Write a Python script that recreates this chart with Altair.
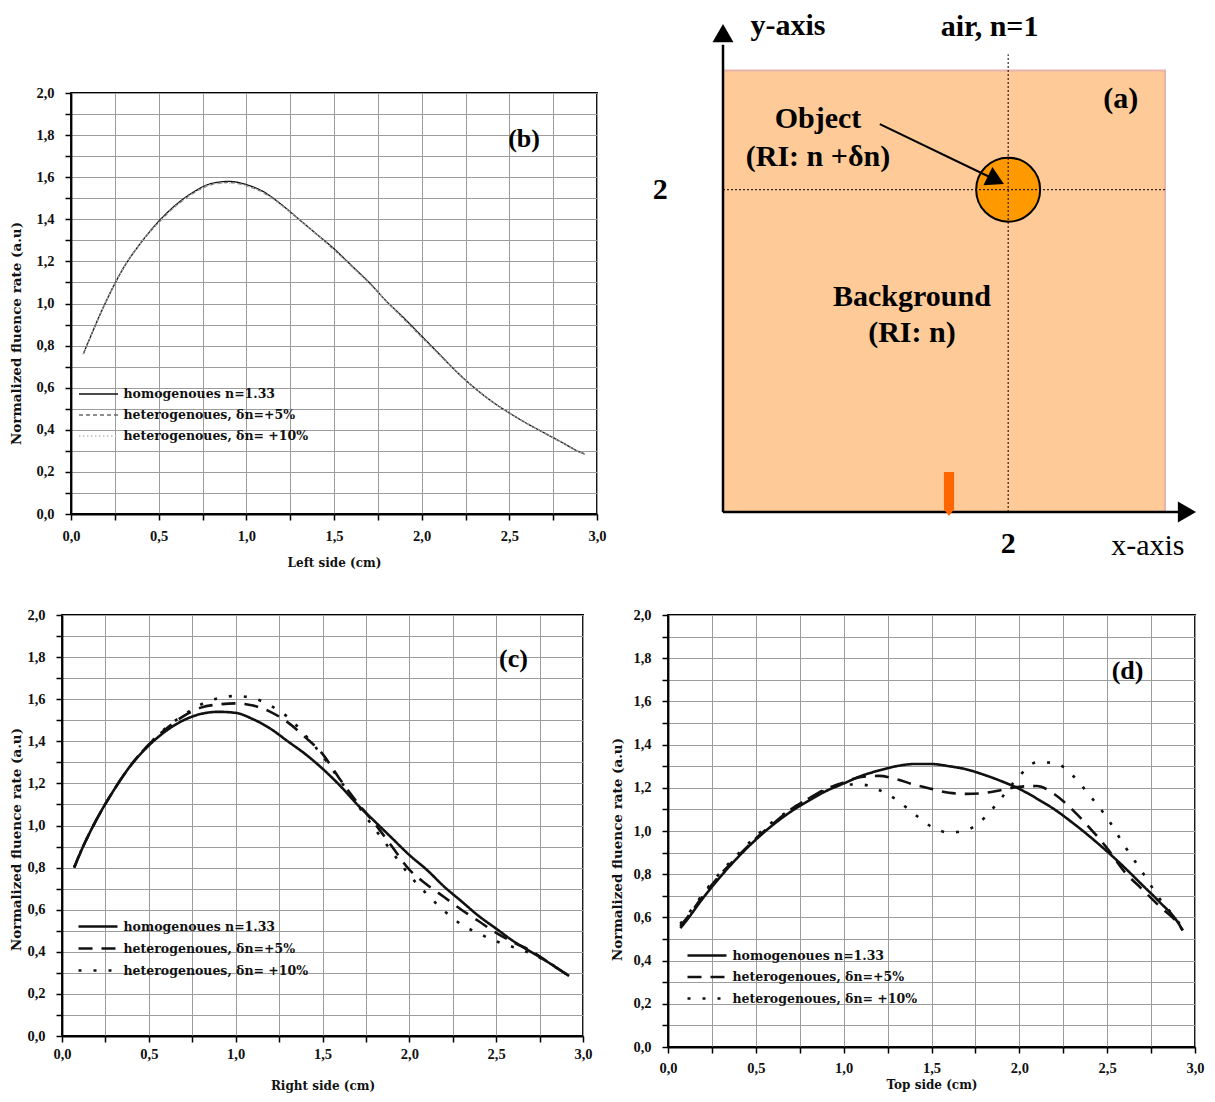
import altair as alt
import pandas as pd

# ---------------- data ----------------
SERIES = ["homogenoues n=1.33", "heterogenoues, δn=+5%", "heterogenoues, δn= +10%"]
X_TICKS = [0.0, 0.25, 0.5, 0.75, 1.0, 1.25, 1.5, 1.75, 2.0, 2.25, 2.5, 2.75, 3.0]
Y_TICKS = [0.0, 0.1, 0.2, 0.3, 0.4, 0.5, 0.6, 0.7, 0.8, 0.9, 1.0,
           1.1, 1.2, 1.3, 1.4, 1.5, 1.6, 1.7, 1.8, 1.9, 2.0]

# (b) left side
XB = [0.07, 0.1, 0.2, 0.3, 0.4, 0.5, 0.6, 0.7, 0.8, 0.9, 1.0, 1.1, 1.2, 1.3, 1.4, 1.5,
      1.6, 1.7, 1.8, 1.9, 2.0, 2.1, 2.2, 2.3, 2.4, 2.5, 2.6, 2.7, 2.8, 2.9, 2.93]
B_HOM = [0.76, 0.82, 1.01, 1.17, 1.29, 1.39, 1.47, 1.53, 1.57, 1.58, 1.565, 1.53, 1.47, 1.40, 1.33, 1.26,
         1.18, 1.10, 1.01, 0.93, 0.845, 0.76, 0.675, 0.60, 0.535, 0.48, 0.43, 0.385, 0.34, 0.295, 0.285]
B_P5 = [0.76, 0.82, 1.01, 1.17, 1.29, 1.385, 1.465, 1.525, 1.565, 1.575, 1.56, 1.525, 1.47, 1.40, 1.33, 1.255,
        1.18, 1.10, 1.01, 0.925, 0.84, 0.76, 0.675, 0.60, 0.535, 0.48, 0.43, 0.385, 0.34, 0.295, 0.285]
B_P10 = [0.76, 0.82, 1.01, 1.17, 1.29, 1.385, 1.465, 1.525, 1.565, 1.572, 1.56, 1.525, 1.465, 1.40, 1.33, 1.255,
         1.175, 1.095, 1.01, 0.925, 0.84, 0.755, 0.675, 0.60, 0.535, 0.48, 0.43, 0.385, 0.34, 0.295, 0.285]

# (c) right side
XC = [0.07, 0.1, 0.2, 0.3, 0.4, 0.5, 0.6, 0.7, 0.8, 0.9, 1.0, 1.1, 1.2, 1.3, 1.4, 1.5,
      1.6, 1.7, 1.8, 1.9, 2.0, 2.1, 2.2, 2.3, 2.4, 2.5, 2.6, 2.7, 2.8, 2.92]
C_HOM = [0.80, 0.86, 1.03, 1.17, 1.29, 1.38, 1.45, 1.50, 1.53, 1.54, 1.535, 1.505, 1.46, 1.40, 1.34, 1.27,
         1.19, 1.10, 1.02, 0.94, 0.86, 0.79, 0.71, 0.64, 0.57, 0.51, 0.45, 0.40, 0.35, 0.285]
C_P5 = [0.80, 0.86, 1.03, 1.17, 1.29, 1.385, 1.46, 1.52, 1.56, 1.575, 1.58, 1.57, 1.54, 1.49, 1.42, 1.34,
        1.22, 1.11, 1.01, 0.90, 0.79, 0.72, 0.66, 0.60, 0.545, 0.49, 0.445, 0.405, 0.35, 0.285]
C_P10 = [0.80, 0.86, 1.03, 1.17, 1.29, 1.385, 1.465, 1.525, 1.575, 1.605, 1.615, 1.605, 1.57, 1.515, 1.43, 1.33,
         1.215, 1.10, 0.985, 0.875, 0.765, 0.675, 0.595, 0.53, 0.487, 0.45, 0.422, 0.392, 0.35, 0.285]

# (d) top side
XD = [0.07, 0.1, 0.2, 0.3, 0.4, 0.5, 0.6, 0.7, 0.8, 0.9, 1.0, 1.1, 1.2, 1.3, 1.4, 1.5,
      1.6, 1.7, 1.8, 1.9, 2.0, 2.1, 2.2, 2.3, 2.4, 2.5, 2.6, 2.7, 2.8, 2.9, 2.93]
D_HOM = [0.55, 0.58, 0.69, 0.79, 0.88, 0.96, 1.03, 1.09, 1.14, 1.185, 1.22, 1.255, 1.28, 1.30, 1.31, 1.31,
         1.30, 1.285, 1.26, 1.23, 1.195, 1.15, 1.10, 1.04, 0.975, 0.905, 0.83, 0.75, 0.67, 0.58, 0.54]
D_P5 = [0.56, 0.59, 0.70, 0.80, 0.885, 0.965, 1.035, 1.10, 1.15, 1.195, 1.225, 1.25, 1.255, 1.24, 1.215, 1.195,
        1.177, 1.172, 1.176, 1.19, 1.205, 1.208, 1.17, 1.10, 1.015, 0.92, 0.81, 0.73, 0.65, 0.575, 0.54]
D_P10 = [0.57, 0.60, 0.71, 0.81, 0.895, 0.975, 1.045, 1.10, 1.15, 1.19, 1.215, 1.215, 1.19, 1.145, 1.08, 1.02,
         0.993, 1.004, 1.06, 1.155, 1.255, 1.318, 1.315, 1.26, 1.165, 1.06, 0.93, 0.81, 0.685, 0.585, 0.55]

# (a) schematic, in cm-like diagram units
BOX_X, BOX_X2, BOX_Y, BOX_Y2 = [0.0], [3.1], [0.0], [2.74]
GUIDE_X, GUIDE_X2, GUIDE_Y, GUIDE_Y2 = [2.0, 0.0], [2.0, 3.1], [0.0, 2.0], [2.84, 2.0]
SHAFT_X, SHAFT_X2, SHAFT_Y, SHAFT_Y2 = [0.0, 0.0], [0.0, 3.2], [0.0, 0.0], [2.9, 0.0]
YHEAD_X, YHEAD_Y = [0.0], [2.972]
XHEAD_X, XHEAD_Y = [3.254], [0.0]
PTR_X, PTR_X2, PTR_Y, PTR_Y2 = [1.10], [1.914], [2.407], [2.06]
OBJ_X, OBJ_Y = [2.0], [2.0]
SRC_X, SRC_Y = [1.585], [0.112]
BOLD_TEXT = ["y-axis", "air, n=1", "(a)", "Object", "(RI: n +δn)", "2", "Background", "(RI: n)", "2"]
BOLD_X = [0.456, 1.87, 2.79, 0.666, 0.666, -0.44, 1.325, 1.325, 2.0]
BOLD_Y = [3.016, 3.009, 2.56, 2.44, 2.20, 2.0, 1.334, 1.11, -0.2]
REG_TEXT, REG_X, REG_Y = ["x-axis"], [2.98], [-0.21]

# ---------------- styling ----------------
FONT_TXT = "DejaVu Serif"
FONT_NUM = "Liberation Serif"
GRID = "#9c9c9c"
LEGEND_LINE = "M-1.5,0L1.5,0"   # legend sample line, longer than its layout slot
LBL_X = "abs(datum.value*2 - round(datum.value*2)) < 0.001 ? replace(format(datum.value, '.1f'), '.', ',') : ''"
LBL_Y = "abs(datum.value*5 - round(datum.value*5)) < 0.001 ? replace(format(datum.value, '.1f'), '.', ',') : ''"


def long_df(xs, lists):
    rows = []
    for name, ys in zip(SERIES, lists):
        for xv, yv in zip(xs, ys):
            rows.append({"x": xv, "y": yv, "series": name})
    return pd.DataFrame(rows)


def graph(df, cfg):
    common = dict(grid=True, gridColor=GRID, gridWidth=1, tickSize=6, tickWidth=1.5, tickColor="black",
                  domainColor="black", domainWidth=1.8, labelFont=FONT_NUM, labelFontWeight="bold",
                  labelFontSize=14.5, labelColor="#111", labelOverlap=False, labelFlush=False,
                  titleFont=FONT_TXT, titleFontWeight="bold", titleColor="#111")
    x_enc = alt.X("x:Q", scale=alt.Scale(domain=[0, 3], nice=False, zero=False),
                  axis=alt.Axis(title=cfg["x_title"], values=X_TICKS, labelExpr=LBL_X, titleFontSize=12,
                                labelPadding=cfg["xl_pad"], titlePadding=cfg["xt_pad"], **common))
    y_enc = alt.Y("y:Q", scale=alt.Scale(domain=[0, 2], nice=False, zero=False),
                  axis=alt.Axis(title="Normalized fluence rate (a.u)", values=Y_TICKS, labelExpr=LBL_Y,
                                titleFontSize=13.5, labelPadding=11,
                                titleX=cfg["title_x"], titleY=cfg["title_y"], **common))
    leg = alt.Legend(title=None, orient="none", legendX=cfg["leg_x"], legendY=cfg["leg_y"],
                     symbolType=LEGEND_LINE, symbolSize=26 ** 2, symbolStrokeWidth=cfg["sw"],
                     labelFont=FONT_TXT, labelFontWeight="bold", labelFontSize=12.5, labelColor="#111",
                     labelOffset=11, labelLimit=400, rowPadding=cfg["row_pad"], padding=0)
    lines = alt.Chart(df).mark_line(strokeWidth=cfg["sw"], interpolate="monotone").encode(
        x=x_enc, y=y_enc,
        color=alt.Color("series:N", scale=alt.Scale(domain=SERIES, range=cfg["colors"]), legend=leg),
        strokeDash=alt.StrokeDash("series:N", scale=alt.Scale(domain=SERIES, range=cfg["dashes"]), legend=leg),
    )
    tag = alt.Chart(pd.DataFrame({"x": [cfg["tag_x"]], "y": [cfg["tag_y"]], "t": [cfg["tag"]]})).mark_text(
        font=FONT_NUM, fontWeight="bold", fontSize=26, color="black").encode(x=x_enc, y=y_enc, text="t:N")
    return alt.layer(lines, tag).properties(width=cfg["w"], height=cfg["h"])


chart_b = graph(long_df(XB, [B_HOM, B_P5, B_P10]), dict(
    x_title="Left side (cm)", tag="(b)", tag_x=2.584, tag_y=1.78, w=526, h=421,
    xl_pad=9, xt_pad=15, title_x=-48, title_y=240,
    colors=["#111111", "#6a6a6a", "#bdbdbd"], dashes=[[1, 0], [4, 3], [1.5, 2.5]], sw=1.3,
    leg_x=13.5, leg_y=287, row_pad=0))

chart_c = graph(long_df(XC, [C_HOM, C_P5, C_P10]), dict(
    x_title="Right side (cm)", tag="(c)", tag_x=2.60, tag_y=1.79, w=521, h=421,
    xl_pad=5, xt_pad=20, title_x=-39, title_y=224,
    colors=["#111111", "#111111", "#111111"], dashes=[[1, 0], [14, 9], [3, 12]], sw=2.6,
    leg_x=21.5, leg_y=297, row_pad=1))

chart_d = graph(long_df(XD, [D_HOM, D_P5, D_P10]), dict(
    x_title="Top side (cm)", tag="(d)", tag_x=2.616, tag_y=1.74, w=527, h=432,
    xl_pad=8, xt_pad=5, title_x=-44, title_y=234,
    colors=["#111111", "#111111", "#111111"], dashes=[[1, 0], [14, 9], [3, 12]], sw=2.6,
    leg_x=24.5, leg_y=326, row_pad=0.5))

# ---------------- schematic (a) ----------------
DX = alt.X("x:Q", scale=alt.Scale(domain=[0, 3.1], nice=False, zero=False), axis=None)
DY = alt.Y("y:Q", scale=alt.Scale(domain=[0, 2.6], nice=False, zero=False), axis=None)

box = alt.Chart(pd.DataFrame({"x": BOX_X, "x2": BOX_X2, "y": BOX_Y, "y2": BOX_Y2})).mark_rect(
    fill="#FDCA98", stroke="#E9B3AB", strokeWidth=2).encode(x=DX, x2="x2:Q", y=DY, y2="y2:Q")
obj = alt.Chart(pd.DataFrame({"x": OBJ_X, "y": OBJ_Y})).mark_point(
    shape="circle", size=4096, fill="#FF9900", stroke="black", strokeWidth=2, opacity=1, fillOpacity=1
).encode(x=DX, y=DY)
guides = alt.Chart(pd.DataFrame({"x": GUIDE_X, "x2": GUIDE_X2, "y": GUIDE_Y, "y2": GUIDE_Y2})).mark_rule(
    color="black", strokeWidth=1, strokeDash=[2, 2]).encode(x=DX, x2="x2:Q", y=DY, y2="y2:Q")
shafts = alt.Chart(pd.DataFrame({"x": SHAFT_X, "x2": SHAFT_X2, "y": SHAFT_Y, "y2": SHAFT_Y2})).mark_rule(
    color="black", strokeWidth=2.5).encode(x=DX, x2="x2:Q", y=DY, y2="y2:Q")
yhead = alt.Chart(pd.DataFrame({"x": YHEAD_X, "y": YHEAD_Y})).mark_point(
    shape="triangle-up", size=441, filled=True, color="black", opacity=1).encode(x=DX, y=DY)
xhead = alt.Chart(pd.DataFrame({"x": XHEAD_X, "y": XHEAD_Y})).mark_point(
    shape="triangle-right", size=441, filled=True, color="black", opacity=1).encode(x=DX, y=DY)
pointer = alt.Chart(pd.DataFrame({"x": PTR_X, "x2": PTR_X2, "y": PTR_Y, "y2": PTR_Y2})).mark_rule(
    color="black", strokeWidth=2).encode(x=DX, x2="x2:Q", y=DY, y2="y2:Q")
phead = alt.Chart(pd.DataFrame({"x": PTR_X2, "y": PTR_Y2})).mark_point(
    shape="triangle-right", size=420, angle=26, filled=True, color="black", opacity=1).encode(x=DX, y=DY)
source = alt.Chart(pd.DataFrame({"x": SRC_X, "y": SRC_Y})).mark_point(
    shape="M-0.23,-1L0.23,-1L0.23,0.7L0,1L-0.23,0.7Z", size=1936, filled=True, color="#FF6600", opacity=1
).encode(x=DX, y=DY)
btxt = alt.Chart(pd.DataFrame({"x": BOLD_X, "y": BOLD_Y, "t": BOLD_TEXT})).mark_text(
    font=FONT_NUM, fontWeight="bold", fontSize=30, color="black").encode(x=DX, y=DY, text="t:N")
rtxt = alt.Chart(pd.DataFrame({"x": REG_X, "y": REG_Y, "t": REG_TEXT})).mark_text(
    font=FONT_NUM, fontSize=30, color="black").encode(x=DX, y=DY, text="t:N")

chart_a = alt.layer(box, obj, guides, shafts, yhead, xhead, pointer, phead, source, btxt, rtxt).properties(
    width=442, height=419, view=alt.ViewBackground(stroke="transparent"))

# small empty cell that shifts panel (b) to the right of panel (c)
spacer = alt.Chart(pd.DataFrame({"v": [0]})).mark_point(size=0, opacity=0).encode(
    x=alt.value(0), y=alt.value(0)).properties(width=9, height=1, view=alt.ViewBackground(stroke="transparent"))

IND = dict(color="independent", strokeDash="independent")
left_top = alt.hconcat(spacer, chart_b, spacing=0, bounds="flush").resolve_scale(**IND)
top = alt.hconcat(left_top, chart_a, spacing=9 + 526 + 126, bounds="flush").resolve_scale(**IND)
bottom = alt.hconcat(chart_c, chart_d, spacing=85, bounds="flush").resolve_scale(**IND)
chart = alt.vconcat(top, bottom, spacing=36).resolve_scale(**IND).properties(
    padding={"left": 0, "top": 2, "right": 0, "bottom": 0}
).configure_view(stroke="black", strokeWidth=1.8)

chart.save("out.html", embed_options={"renderer": "svg", "actions": False})
